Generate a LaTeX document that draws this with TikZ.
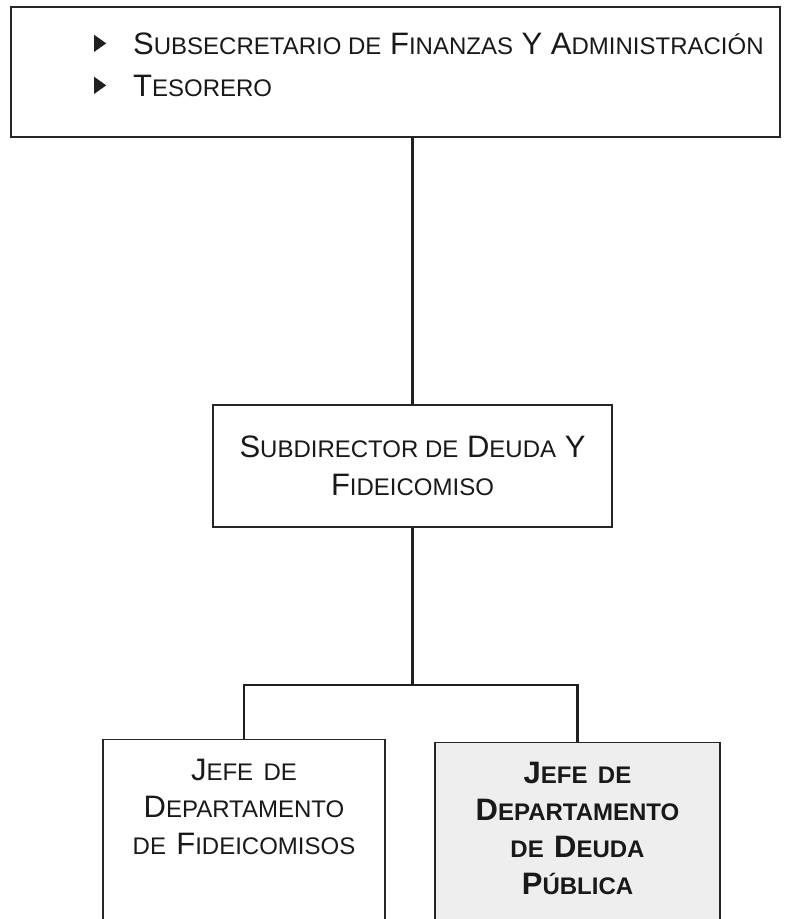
\documentclass[tikz,border=0pt]{standalone}
\usepackage{fontspec}
\setmainfont{Liberation Sans}
\usetikzlibrary{positioning}
% small capitals by hand
\newcommand\lc[1]{{\fontsize{24}{24}\selectfont #1}}
\newcommand\itm{\makebox[39pt][l]{\tikz[baseline=0pt]\fill[gray!25!black] (0,3pt) -- (0,20pt) -- (12pt,11.5pt) -- cycle;}}

\begin{document}
\begin{tikzpicture}[x=1pt, y=1pt,
  box/.style = {draw=gray!30!black, line width=1.4pt, fill=white, text=gray!20!black,
    font=\fontsize{31}{38}\selectfont, align=center, inner xsep=0pt, inner ysep=0pt},
  unit/.style = {box, anchor=north, text width=#1, inner ysep=19pt, text depth=160pt,
    font=\fontsize{31}{37}\selectfont},
  shade/.style = {unit=#1, fill=gray!13, font=\bfseries\fontsize{31}{37}\selectfont},
  link/.style = {draw=gray!25!black, line width=2.2pt}]
\useasboundingbox (0,0) rectangle (786,-919);
\clip (0,0) rectangle (786,-919);
\node[box, minimum width=769pt, minimum height=130pt] (top) at (395.5,-72) {};
\node[anchor=north west, align=left, inner sep=0pt, text=gray!20!black,
  font=\fontsize{31}{42}\selectfont]
  (toptext) at (94,-33) {\itm S\lc{UBSECRETARIO DE} F\lc{INANZAS} Y A\lc{DMINISTRACIÓN}\\
  \itm T\lc{ESORERO}};
\node[box, minimum width=399pt, minimum height=122pt] (sub) at (412.5,-466)
  {S\lc{UBDIRECTOR DE} D\lc{EUDA} Y\\ F\lc{IDEICOMISO}};
\node[unit=282pt] (fide) at (244,-739)
  {J\lc{EFE DE}\\ D\lc{EPARTAMENTO}\\ \lc{DE} F\lc{IDEICOMISOS}};
\node[shade=285pt] (deuda) at (577.5,-742)
  {J\lc{EFE DE}\\ D\lc{EPARTAMENTO}\\ \lc{DE} D\lc{EUDA}\\ P\lc{ÚBLICA}};
\coordinate (bar) at (0,-685);
\draw[link] (top.south -| sub.north) -- (sub.north);
\draw[link] (sub.south) -- (sub.south |- bar);
\draw[link] (fide.north) -- (fide.north |- bar) -- (deuda.north |- bar) -- (deuda.north);
\end{tikzpicture}
\end{document}
